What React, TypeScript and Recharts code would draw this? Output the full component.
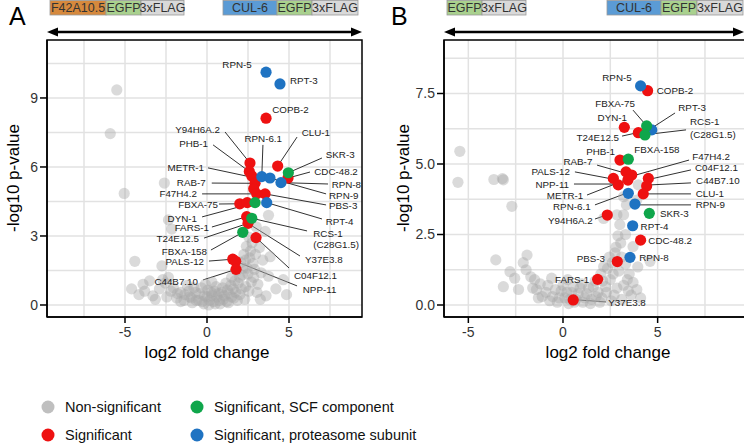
import React from "react";
import { ScatterChart, Scatter, XAxis, YAxis, CartesianGrid, ReferenceLine } from "recharts";

// log2 fold change / -log10 p-value
type XY = [number, number];
type Lbl = { t: string; x: number; y: number; a: "start" | "end" | "middle" };
type Seg = [number, number, number, number];

const FONT = '"Liberation Sans", Arial, sans-serif';

const greyA: XY[] = [
  [-5.5, 9.35], [-5.9, 7.45], [-5.05, 4.85], [-2.6, 5.3], [-2.35, 3.7], [-2.15, 3.3], [-4.4, 1.9], [-2.75, 1.7],
  [-4.6, 0.7], [-4.15, 0.45], [-3.8, 0.6], [-3.9, 0.9], [-3.3, 0.4], [-3.5, 1.05], [-3.15, 0.25], [-2.7, 1.1],
  [-2.55, 0.95], [-2.45, 0.35], [-2.2, 0.6], [-2.05, 0.75], [-1.85, 0.3], [-1.6, 0.55], [-1.4, 0.2], [-1.2, 0.85],
  [-1.05, 0.35], [-0.9, 0.1], [-0.7, 0.55], [-0.5, 0.2], [-0.35, 0.75], [-0.2, 0.05], [0, 0.35], [0.1, 0.0],
  [0.25, 0.55], [0.4, 0.15], [0.55, 0.8], [0.6, 0.35], [0.8, 0.05], [0.9, 0.55], [1.0, 0.25], [1.15, 0.95],
  [1.3, 0.1], [1.35, 0.5], [1.5, 1.2], [1.6, 0.7], [1.65, 0.3], [1.8, 1.5], [1.9, 0.95], [2.0, 0.45],
  [2.05, 1.85], [2.15, 1.3], [2.25, 2.2], [2.35, 0.8], [2.4, 2.55], [2.45, 1.6], [2.55, 2.95], [2.6, 2.05],
  [2.7, 1.0], [2.75, 2.7], [2.9, 1.55], [3.0, 3.4], [3.05, 0.55], [3.2, 2.5], [3.25, 0.25], [3.4, 1.95],
  [3.55, 3.2], [3.75, 3.9], [3.85, 2.1], [3.75, 1.25], [4.2, 0.7], [4.65, 1.1], [4.85, 0.45], [3.6, 0.4],
  [-1.8, 0.5], [-1.6, 0.15], [-1.35, 0.45], [-1.1, 0.6], [-0.95, 0.3], [-0.8, 0.75], [-0.65, 0.2], [-0.45, 0.5],
  [-0.3, 0.15], [-0.15, 0.4], [0.05, 0.65], [0.15, 0.2], [0.3, 0.4], [0.45, 0.6], [0.5, 0.05], [0.7, 0.5],
  [0.75, 0.2], [0.95, 0.75], [1.05, 0.4], [1.2, 0.15], [1.25, 0.65], [1.45, 0.85], [1.5, 0.35], [1.7, 1.05],
  [1.75, 0.55], [1.85, 0.2], [2.0, 1.2], [2.1, 0.7], [2.2, 1.6], [2.3, 0.25], [2.35, 1.95], [2.5, 1.35],
  [2.55, 0.6], [2.65, 2.35], [2.8, 1.8], [2.85, 1.2], [2.95, 2.2], [3.1, 0.9], [3.3, 1.4], [-0.1, 0.9],
  [0.3, 1.0], [-2.35, 1.2], [-2.9, 0.7],
];
const redA: XY[] = [
  [3.6, 8.12], [4.31, 6.04], [2.62, 6.17], [2.58, 5.8], [2.73, 5.61], [4.94, 5.52], [2.93, 5.29], [2.85, 5.05],
  [3.03, 4.83], [3.54, 4.83], [2.0, 4.4], [2.45, 4.45], [2.42, 3.84], [2.5, 3.55], [2.99, 2.93], [1.57, 1.99],
  [1.75, 1.9], [1.77, 1.55],
];
const blueA: XY[] = [[3.6, 10.12], [4.45, 9.61], [3.34, 5.58], [3.84, 5.52], [4.51, 5.32], [3.64, 4.45]];
const greenA: XY[] = [[4.96, 5.75], [2.93, 4.45], [2.73, 3.77], [2.18, 3.16]];

const labelsA: Lbl[] = [
  { t: "RPN-5", x: 2.73, y: 10.47, a: "end" },
  { t: "RPT-3", x: 5.06, y: 9.78, a: "start" },
  { t: "COPB-2", x: 3.98, y: 8.51, a: "start" },
  { t: "Y94H6A.2", x: 0.79, y: 7.65, a: "end" },
  { t: "PHB-1", x: 0.06, y: 7.04, a: "end" },
  { t: "RPN-6.1", x: 3.43, y: 7.25, a: "middle" },
  { t: "CLU-1", x: 5.77, y: 7.51, a: "start" },
  { t: "SKR-3", x: 7.24, y: 6.55, a: "start" },
  { t: "METR-1", x: -0.18, y: 5.97, a: "end" },
  { t: "CDC-48.2", x: 6.54, y: 5.8, a: "start" },
  { t: "RAB-7", x: -0.08, y: 5.32, a: "end" },
  { t: "RPN-8", x: 7.6, y: 5.25, a: "start" },
  { t: "F47H4.2", x: -0.61, y: 4.83, a: "end" },
  { t: "RPN-9", x: 7.44, y: 4.75, a: "start" },
  { t: "FBXA-75", x: 0.67, y: 4.39, a: "end" },
  { t: "PBS-3", x: 7.44, y: 4.32, a: "start" },
  { t: "DYN-1", x: -0.61, y: 3.78, a: "end" },
  { t: "RPT-4", x: 7.24, y: 3.65, a: "start" },
  { t: "FARS-1", x: 0.12, y: 3.35, a: "end" },
  { t: "RCS-1", x: 6.48, y: 3.12, a: "start" },
  { t: "T24E12.5", x: -0.49, y: 2.87, a: "end" },
  { t: "(C28G1.5)", x: 6.48, y: 2.64, a: "start" },
  { t: "FBXA-158", x: 0, y: 2.32, a: "end" },
  { t: "Y37E3.8", x: 5.98, y: 1.96, a: "start" },
  { t: "PALS-12", x: -0.18, y: 1.88, a: "end" },
  { t: "C04F12.1", x: 5.3, y: 1.3, a: "start" },
  { t: "C44B7.10", x: -0.55, y: 1.04, a: "end" },
  { t: "NPP-11", x: 5.84, y: 0.68, a: "start" },
];
const leadersA: Seg[] = [
  [1.1, 7.52, 2.62, 6.17], [0.37, 6.96, 2.58, 5.8], [0.06, 5.96, 3.1, 5.5], [0.29, 5.3, 2.93, 5.29],
  [-0.3, 4.83, 3.03, 4.83], [0.73, 4.39, 2.0, 4.4], [-0.3, 3.83, 2.4, 4.35], [0.3, 3.39, 2.42, 3.84],
  [-0.18, 2.91, 2.5, 3.55], [0.24, 2.39, 2.18, 3.16], [0.12, 1.91, 1.57, 1.99], [-0.24, 1.09, 1.77, 1.55],
  [5.49, 7.3, 4.31, 6.04], [3.41, 6.96, 3.34, 5.58], [7.01, 6.39, 4.96, 5.75], [6.28, 5.78, 4.94, 5.52],
  [7.38, 5.26, 4.51, 5.32], [7.26, 4.83, 3.84, 5.52], [7.26, 4.35, 3.54, 4.83], [7.01, 3.74, 3.64, 4.45],
  [6.1, 3.22, 2.73, 3.77], [5.67, 2.13, 2.5, 3.55], [5.0, 1.61, 2.99, 2.93], [5.49, 0.83, 1.75, 1.9],
];

const greyB: XY[] = [
  [-5.45, 5.45], [-5.55, 4.35], [-3.65, 4.45], [-3.2, 4.48], [-3.15, 4.44], [-2.7, 3.5], [-3.55, 1.6], [-1.9, 1.77],
  [-2.1, 1.5], [-2.8, 1.18], [-2.55, 0.95], [-1.5, 0.9], [-3.15, 0.65], [-2.35, 0.55], [-1.95, 1.25], [-1.6, 0.6],
  [-1.2, 0.75], [-0.9, 0.45], [-1.3, 0.25], [-0.55, 0.3], [-0.3, 0.1], [-0.1, 0.5], [0.1, 0.25], [0.3, 0.05],
  [0.45, 0.45], [0.7, 0.2], [0.9, 0.6], [1.05, 0.1], [1.25, 0.4], [1.45, 0.05], [1.6, 0.65], [1.75, 0.3],
  [1.95, 0.1], [2.1, 0.85], [2.15, 1.36], [2.3, 0.45], [2.45, 1.7], [2.55, 0.15], [2.65, 1.1], [2.8, 2.05],
  [2.85, 0.6], [2.9, 2.45], [3.0, 2.85], [2.85, 3.2], [2.15, 3.07], [3.35, 3.55], [3.2, 3.84], [3.7, 2.07],
  [3.3, 1.45], [3.4, 0.9], [3.6, 0.35], [3.95, 1.35], [4.6, 1.55], [3.9, 0.55], [4.1, 0.25], [3.98, 4.26],
  [3.9, 3.72], [3.1, 0.2],
  [-1.7, 1.0], [-1.4, 0.55], [-1.1, 0.3], [-0.8, 0.7], [-0.7, 0.15], [-0.4, 0.55], [-0.2, 0.25], [0.0, 0.7],
  [0.2, 0.45], [0.35, 0.2], [0.55, 0.65], [0.6, 0.1], [0.8, 0.4], [1.0, 0.75], [1.15, 0.25], [1.35, 0.6],
  [1.5, 0.2], [1.7, 0.85], [1.85, 0.45], [2.0, 1.1], [2.05, 0.25], [2.25, 0.65], [2.35, 1.3], [2.5, 0.9],
  [2.6, 1.5], [2.7, 0.35], [2.75, 1.85], [2.95, 1.2], [3.05, 2.2], [3.1, 1.7], [3.2, 0.7], [3.3, 2.5],
  [3.5, 1.1], [3.45, 0.5], [3.7, 0.8], [3.2, 3.2], [-0.6, 0.95], [0.25, 0.9],
];
const redB: XY[] = [
  [4.47, 7.6], [3.24, 6.3], [3.98, 6.11], [3.01, 5.14], [3.33, 4.72], [3.63, 4.61], [3.43, 4.43], [2.66, 4.49],
  [2.92, 4.26], [4.51, 4.49], [4.42, 4.22], [4.24, 3.94], [2.34, 3.19], [4.1, 2.3], [2.87, 1.54], [1.83, 0.91],
  [0.54, 0.18],
];
const blueB: XY[] = [[4.1, 7.77], [4.69, 6.21], [3.45, 3.96], [3.8, 3.58], [3.68, 2.81], [3.54, 1.69]];
const greenB: XY[] = [[4.42, 6.35], [4.33, 6.03], [3.45, 5.17], [4.56, 3.25]];

const labelsB: Lbl[] = [
  { t: "RPN-5", x: 3.63, y: 8.06, a: "end" },
  { t: "COPB-2", x: 4.95, y: 7.6, a: "start" },
  { t: "FBXA-75", x: 2.75, y: 7.15, a: "middle" },
  { t: "RPT-3", x: 6.09, y: 7.01, a: "start" },
  { t: "DYN-1", x: 3.38, y: 6.64, a: "end" },
  { t: "RCS-1", x: 6.71, y: 6.5, a: "start" },
  { t: "(C28G1.5)", x: 6.71, y: 6.06, a: "start" },
  { t: "T24E12.5", x: 2.96, y: 5.95, a: "end" },
  { t: "PHB-1", x: 2.75, y: 5.44, a: "end" },
  { t: "FBXA-158", x: 3.77, y: 5.52, a: "start" },
  { t: "F47H4.2", x: 6.83, y: 5.28, a: "start" },
  { t: "RAB-7", x: 1.55, y: 5.08, a: "end" },
  { t: "C04F12.1", x: 6.97, y: 4.88, a: "start" },
  { t: "PALS-12", x: 0.37, y: 4.73, a: "end" },
  { t: "C44B7.10", x: 7.03, y: 4.4, a: "start" },
  { t: "NPP-11", x: 0.32, y: 4.28, a: "end" },
  { t: "CLU-1", x: 7.01, y: 3.94, a: "start" },
  { t: "METR-1", x: 1.07, y: 3.88, a: "end" },
  { t: "RPN-9", x: 7.01, y: 3.55, a: "start" },
  { t: "RPN-6.1", x: 1.46, y: 3.51, a: "end" },
  { t: "SKR-3", x: 5.12, y: 3.23, a: "start" },
  { t: "Y94H6A.2", x: 1.57, y: 2.98, a: "end" },
  { t: "RPT-4", x: 4.1, y: 2.8, a: "start" },
  { t: "CDC-48.2", x: 4.51, y: 2.3, a: "start" },
  { t: "RPN-8", x: 4.03, y: 1.69, a: "start" },
  { t: "PBS-3", x: 2.22, y: 1.66, a: "end" },
  { t: "FARS-1", x: 1.39, y: 0.91, a: "end" },
  { t: "Y37E3.8", x: 2.39, y: 0.08, a: "start" },
];
const leadersB: Seg[] = [
  [3.7, 6.91, 4.33, 6.42], [5.92, 6.81, 4.7, 6.28], [6.5, 6.21, 4.6, 6.06], [3.12, 5.99, 3.86, 6.1],
  [1.8, 4.96, 3.43, 4.65], [0.63, 4.72, 2.59, 4.47], [0.58, 4.29, 2.75, 4.29], [1.27, 3.9, 3.54, 4.5],
  [1.69, 3.55, 3.38, 3.97], [1.69, 3.05, 2.17, 3.16], [6.66, 5.14, 3.64, 4.57], [6.76, 4.79, 4.65, 4.47],
  [6.76, 4.33, 4.65, 4.26], [6.76, 3.94, 4.44, 3.94], [6.76, 3.55, 4.01, 3.55], [0.79, 0.18, 2.27, 0.11],
];

const xTicks = [-5, 0, 5];
const yTicksA = [0, 3, 6, 9];
const yTicksB = [0, 2.5, 5, 7.5];

const COL = { grey: "#a6a6a6", red: "#ee1111", green: "#0fa64b", blue: "#1f73c2" };

const pts = (a: XY[]) => a.map(([x, y]) => ({ x, y }));

const dot = (fill: string, op = 1) => (p: any) => (
  <circle cx={p.cx} cy={p.cy} r={5.6} fill={fill} fillOpacity={op} />
);

const labelShape = (p: any) => (
  <text x={p.cx} y={p.cy} textAnchor={p.payload.a} dominantBaseline="central" fontSize={9.8} fill="#222" fontFamily={FONT}>
    {p.payload.t}
  </text>
);

const tickStyle = { fill: "#333", fontSize: 14, fontFamily: FONT };
const blackLine = { stroke: "#000", strokeWidth: 1.5 };

function Volcano(props: {
  width: number; yW: number; right: number;
  xDom: [number, number]; yDom: [number, number];
  yTicks: number[]; gx: number[]; gy: number[]; fmt: (v: number) => string;
  grey: XY[]; red: XY[]; blue: XY[]; green: XY[]; labels: Lbl[]; leaders: Seg[];
}) {
  const p = props;
  return (
    <ScatterChart width={p.width} height={370} margin={{ top: 40, right: p.right, bottom: 0, left: 0 }}>
      <CartesianGrid stroke="#e2e2e2" strokeWidth={1.5} verticalValues={p.gx} horizontalValues={p.gy} />
      <XAxis type="number" dataKey="x" domain={p.xDom} ticks={xTicks} interval={0} allowDataOverflow height={53}
        tickSize={6} tickMargin={4} tick={tickStyle} axisLine={blackLine} tickLine={blackLine} />
      <YAxis type="number" dataKey="y" domain={p.yDom} ticks={p.yTicks} interval={0} allowDataOverflow width={p.yW}
        tickSize={7} tickMargin={2} tick={tickStyle} axisLine={blackLine} tickLine={blackLine} tickFormatter={p.fmt} />
      {p.leaders.map((s, i) => (
        <ReferenceLine key={i} segment={[{ x: s[0], y: s[1] }, { x: s[2], y: s[3] }]} stroke="#1a1a1a" strokeWidth={0.9} />
      ))}
      <Scatter data={pts(p.grey)} shape={dot(COL.grey, 0.42)} isAnimationActive={false} />
      <Scatter data={pts(p.red)} shape={dot(COL.red)} isAnimationActive={false} />
      <Scatter data={pts(p.blue)} shape={dot(COL.blue)} isAnimationActive={false} />
      <Scatter data={pts(p.green)} shape={dot(COL.green)} isAnimationActive={false} />
      <Scatter data={p.labels} shape={labelShape} isAnimationActive={false} />
    </ScatterChart>
  );
}

const boxesA = [
  { t: "F42A10.5", x: 50, w: 56, c: "#d6893d" }, { t: "EGFP", x: 106, w: 35, c: "#a9d18e" }, { t: "3xFLAG", x: 141, w: 43, c: "#d9d9d9" },
  { t: "CUL-6", x: 223, w: 54, c: "#5b9bd5" }, { t: "EGFP", x: 277, w: 35, c: "#a9d18e" }, { t: "3xFLAG", x: 312, w: 46, c: "#d9d9d9" },
];
const boxesB = [
  { t: "EGFP", x: 447, w: 35, c: "#a9d18e" }, { t: "3xFLAG", x: 482, w: 44, c: "#d9d9d9" },
  { t: "CUL-6", x: 607, w: 54, c: "#5b9bd5" }, { t: "EGFP", x: 661, w: 36, c: "#a9d18e" }, { t: "3xFLAG", x: 697, w: 46, c: "#d9d9d9" },
];

const legendItems = [
  { t: "Non-significant", c: "#bfbfbf", x: 48, y: 407 },
  { t: "Significant, SCF component", c: COL.green, x: 197, y: 407 },
  { t: "Significant", c: COL.red, x: 48, y: 435 },
  { t: "Significant, proteasome subunit", c: COL.blue, x: 197, y: 435 },
];

function Arrow({ x1, x2, y }: { x1: number; x2: number; y: number }) {
  return (
    <g>
      <line x1={x1 + 8} x2={x2 - 8} y1={y} y2={y} stroke="#000" strokeWidth={2.6} />
      <polygon points={`${x1},${y} ${x1 + 11},${y - 4.5} ${x1 + 11},${y + 4.5}`} fill="#000" />
      <polygon points={`${x2},${y} ${x2 - 11},${y - 4.5} ${x2 - 11},${y + 4.5}`} fill="#000" />
    </g>
  );
}

export default function App() {
  const allBoxes = [...boxesA, ...boxesB];
  return (
    <div style={{ position: "absolute", left: 0, top: 0, width: 744, height: 445, overflow: "hidden", background: "#fff", fontFamily: FONT }}>
      <div style={{ position: "absolute", left: 0, top: 0 }}>
        <Volcano width={372} yW={47} right={10} xDom={[-9.756, 9.451]} yDom={[-0.522, 11.52]} yTicks={yTicksA}
          gx={[-7.5, -5, -2.5, 0, 2.5, 5, 7.5]} gy={[0, 1.5, 3, 4.5, 6, 7.5, 9, 10.5]} fmt={(v) => String(v)}
          grey={greyA} red={redA} blue={blueA} green={greenA} labels={labelsA} leaders={leadersA} />
      </div>
      <div style={{ position: "absolute", left: 372, top: 0 }}>
        <Volcano width={403} yW={72} right={0} xDom={[-6.286, 11.2]} yDom={[-0.4255, 9.397]} yTicks={yTicksB}
          gx={[-5, -2.5, 0, 2.5, 5, 7.5]} gy={[0, 1.25, 2.5, 3.75, 5, 6.25, 7.5, 8.75]} fmt={(v) => v.toFixed(1)}
          grey={greyB} red={redB} blue={blueB} green={greenB} labels={labelsB} leaders={leadersB} />
      </div>
      <svg width={744} height={445} style={{ position: "absolute", left: 0, top: 0, pointerEvents: "none" }} fontFamily={FONT}>
        <text x={9} y={25} fontSize={25} fill="#000">A</text>
        <text x={391} y={25} fontSize={25} fill="#000">B</text>
        {allBoxes.map((b, i) => (
          <g key={i}>
            <rect x={b.x} y={0.5} width={b.w} height={14.5} fill={b.c} stroke="#9a9a9a" strokeWidth={0.8} />
            <text x={b.x + b.w / 2} y={12} textAnchor="middle" fontSize={12.5} fill="#333">{b.t}</text>
          </g>
        ))}
        <Arrow x1={47} x2={362} y={32} />
        <Arrow x1={444} x2={744} y={32} />
        <rect x={47} y={40} width={315} height={277} fill="none" stroke="#000" strokeWidth={1.5} />
        <rect x={444} y={40} width={331} height={277} fill="none" stroke="#000" strokeWidth={1.5} />
        <text transform="translate(19,178) rotate(-90)" textAnchor="middle" fontSize={17} fill="#000">-log10 p-value</text>
        <text transform="translate(409,178) rotate(-90)" textAnchor="middle" fontSize={17} fill="#000">-log10 p-value</text>
        <text x={207} y={358} textAnchor="middle" fontSize={17} fill="#000">log2 fold change</text>
        <text x={608} y={358} textAnchor="middle" fontSize={17} fill="#000">log2 fold change</text>
        {legendItems.map((l, i) => (
          <g key={i}>
            <circle cx={l.x} cy={l.y} r={6.5} fill={l.c} />
            <text x={l.x + 17} y={l.y} dominantBaseline="central" fontSize={14.5} fill="#111">{l.t}</text>
          </g>
        ))}
      </svg>
    </div>
  );
}
